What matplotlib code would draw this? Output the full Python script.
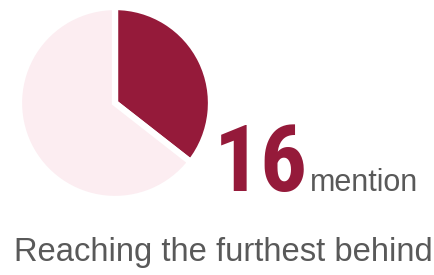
import matplotlib
matplotlib.use("Agg")
import matplotlib.pyplot as plt

labels = ["Reaching the furthest behind", "Other"]
values = [16, 29]
colors = ["#951a3a", "#fcedf1"]
big_number = "16"
unit = "mention"
caption = "Reaching the furthest behind"

W, H = 434, 275
fig = plt.figure(figsize=(W / 100, H / 100), dpi=100)
ax = fig.add_axes([0, 0, 1, 1])
ax.axis("off")

ax.pie(values, colors=colors, startangle=90, counterclock=False,
       center=(115, H - 103), radius=96,
       wedgeprops=dict(edgecolor="white", linewidth=4.5))
ax.set_xlim(0, W)
ax.set_ylim(0, H)
ax.set_aspect("equal")

fig.text(214 / W, 1 - 191 / H, big_number, fontsize=67, fontweight="bold",
         color="#951a3a", family=["Roboto Condensed", "Liberation Sans"],
         ha="left", va="baseline")
fig.text(310 / W, 1 - 191 / H, unit, fontsize=22, color="#595959",
         family="Liberation Sans", ha="left", va="baseline")
fig.text(14 / W, 1 - 261 / H, caption, fontsize=23.6, color="#595959",
         family="Liberation Sans", ha="left", va="baseline")

fig.savefig("out.png", dpi=100)
